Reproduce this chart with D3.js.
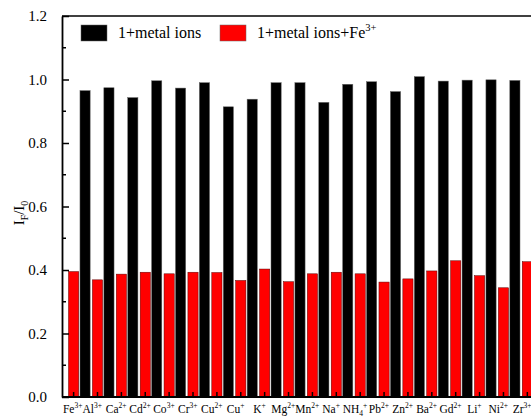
<!DOCTYPE html>
<html>
<head>
<meta charset="utf-8">
<script src="https://cdn.jsdelivr.net/npm/d3@7"></script>
<style>
  html, body { margin: 0; padding: 0; background: #fff; }
  svg { display: block; font-family: "Liberation Serif", "DejaVu Serif", serif; }
</style>
</head>
<body>
<svg id="chart" width="531" height="417"></svg>
<script>
// Metal ions tested (symbol, optional subscript, charge)
const ionSymbols    = ["Fe","Al","Ca","Cd","Co","Cr","Cu","Cu","K","Mg","Mn","Na","NH","Pb","Zn","Ba","Gd","Li","Ni","Zr"];
const ionSubscripts = ["","","","","","","","","","","","","4","","","","","","",""];
const ionCharges    = ["3+","3+","2+","2+","3+","3+","2+","+","+","2+","2+","+","+","2+","2+","2+","2+","+","2+","3+"];

// Relative fluorescence intensity I_F/I_0
const metalOnly = [null,0.965,0.974,0.943,0.996,0.973,0.990,0.914,0.938,0.990,0.990,0.928,0.985,0.993,0.962,1.009,0.995,0.998,0.999,0.997];
const metalPlusFe = [0.395,0.369,0.387,0.393,0.388,0.393,0.392,0.367,0.403,0.363,0.388,0.393,0.388,0.362,0.372,0.397,0.429,0.382,0.344,0.426];

const seriesNames = ["1+metal ions", "1+metal ions+Fe"];
const seriesColors = ["#000000", "#ff0000"];
const yTicks = [0.0, 0.2, 0.4, 0.6, 0.8, 1.0, 1.2];

const svg = d3.select("#chart");
const W = 531, H = 417;
const plot = { left: 62, top: 16, bottom: 397 };

const keys = ionSymbols.map((d, i) => i);
const x = d3.scaleBand().domain(keys).range([55.46, 55.46 + 20 * 23.88]).padding(0);
const sub = d3.scaleBand().domain([0, 1]).range([0, x.bandwidth()]).paddingInner(0.18).paddingOuter(0.05);
const y = d3.scaleLinear().domain([0, 1.2]).range([plot.bottom, plot.top]);

svg.append("rect").attr("width", W).attr("height", H).attr("fill", "#fff");

svg.append("defs").append("clipPath").attr("id", "plotClip")
  .append("rect").attr("x", plot.left).attr("y", 0).attr("width", W - plot.left).attr("height", plot.bottom);

const bars = svg.append("g").attr("clip-path", "url(#plotClip)");
const seriesData = [metalOnly, metalPlusFe];
seriesData.forEach((vals, s) => {
  bars.selectAll(null)
    .data(vals.map((v, i) => ({ i, v })).filter(d => d.v != null))
    .join("rect")
    .attr("x", d => x(d.i) + sub(s))
    .attr("width", sub.bandwidth())
    .attr("y", d => y(d.v))
    .attr("height", d => y(0) - y(d.v))
    .attr("fill", seriesColors[s])
    .attr("stroke", s === 0 ? "#666" : "#5a0000")
    .attr("stroke-width", 0.5);
});

// Inward ticks on the category axis
bars.selectAll(null).data(keys).join("line")
  .attr("x1", d => x(d) + sub(1) + sub.bandwidth() / 2)
  .attr("x2", d => x(d) + sub(1) + sub.bandwidth() / 2)
  .attr("y1", plot.bottom).attr("y2", plot.bottom - 5)
  .attr("stroke", "#000").attr("stroke-width", 1.5);

// Frame: bottom and top
svg.append("line").attr("x1", plot.left).attr("x2", W).attr("y1", plot.bottom).attr("y2", plot.bottom)
  .attr("stroke", "#000").attr("stroke-width", 2);
svg.append("line").attr("x1", plot.left).attr("x2", W).attr("y1", plot.top).attr("y2", plot.top)
  .attr("stroke", "#000").attr("stroke-width", 1.6);

// Y axis with inward major and minor ticks
const yAxis = d3.axisLeft(y).tickValues(yTicks).tickFormat(d3.format(".1f")).tickSizeInner(-7).tickSizeOuter(0).tickPadding(15);
const gy = svg.append("g").attr("transform", `translate(${plot.left},0)`).call(yAxis);
gy.select(".domain").attr("stroke-width", 1.8);
gy.selectAll(".tick line").attr("stroke-width", 1.5);
gy.selectAll(".tick text").attr("font-size", 15).attr("font-family", "Liberation Serif").attr("fill", "#000");
const minor = d3.range(1, 12, 2).map(k => k * 0.1);
gy.selectAll(".minor").data(minor).join("line").attr("class", "minor")
  .attr("x1", 0).attr("x2", 4).attr("y1", d => y(d)).attr("y2", d => y(d))
  .attr("stroke", "#000").attr("stroke-width", 1.5);

// Category labels with charge superscripts
const xl = svg.append("g").attr("font-size", 11.5).attr("fill", "#000");
keys.forEach(i => {
  const cx = i === 0 ? x(i) + sub(1) + sub.bandwidth() / 2 - 1 : x(i) + x.bandwidth() / 2 + 1;
  const t = xl.append("text").attr("x", cx).attr("y", 413).attr("text-anchor", "middle");
  t.append("tspan").text(ionSymbols[i]);
  if (ionSubscripts[i]) t.append("tspan").attr("font-size", 7.5).attr("dy", 2.5).text(ionSubscripts[i]);
  t.append("tspan").attr("font-size", 7.5).attr("dy", ionSubscripts[i] ? -7.5 : -5).text(ionCharges[i]);
});

// Y axis title I_F/I_0
const yt = svg.append("text").attr("transform", `translate(24,213) rotate(-90)`)
  .attr("text-anchor", "middle").attr("font-size", 15).attr("fill", "#000");
yt.append("tspan").text("I");
yt.append("tspan").attr("font-size", 10).attr("dy", 4).text("F");
yt.append("tspan").attr("dy", -4).text("/I");
yt.append("tspan").attr("font-size", 10).attr("dy", 4).text("0");

// Legend
const legendX = [81, 220];
const lg = svg.append("g");
seriesNames.forEach((name, s) => {
  lg.append("rect").attr("x", legendX[s]).attr("y", 25).attr("width", 26).attr("height", 16)
    .attr("fill", seriesColors[s]).attr("stroke", "#666").attr("stroke-width", 0.5);
  const t = lg.append("text").attr("x", legendX[s] + 37).attr("y", 38).attr("font-size", 16).attr("fill", "#000").text(name);
  if (s === 1) t.append("tspan").attr("font-size", 10.5).attr("dy", -7).text("3+");
});
</script>
</body>
</html>
